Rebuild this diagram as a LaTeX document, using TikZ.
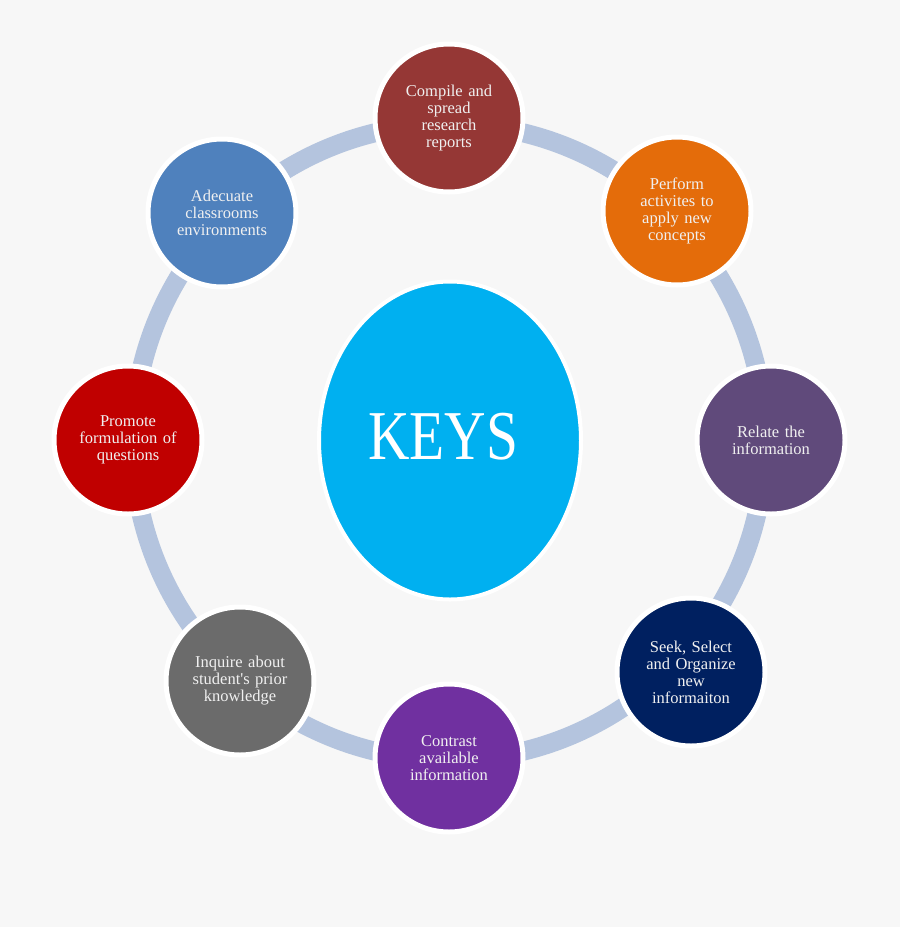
\documentclass[tikz,border=0pt]{standalone}
\usepackage{fontspec}
\setmainfont{Liberation Serif}
\definecolor{bgc}{HTML}{F7F7F7}
\definecolor{ringc}{HTML}{B4C4DE}
\definecolor{keysc}{HTML}{00B0F0}
\definecolor{txtc}{HTML}{F0F0F0}
\definecolor{cA}{HTML}{953735}
\definecolor{cB}{HTML}{E46C0A}
\definecolor{cC}{HTML}{604A7B}
\definecolor{cD}{HTML}{002060}
\definecolor{cE}{HTML}{7030A0}
\definecolor{cF}{HTML}{6B6B6B}
\definecolor{cG}{HTML}{C00000}
\definecolor{cH}{HTML}{4F81BD}
\tikzset{
  bub/.style={circle, draw=white, line width=5pt, minimum size=148pt, inner sep=0pt,
    text=txtc, align=center, text width=120pt,
    font=\fontsize{16.5}{17}\selectfont},
  keysbox/.style={ellipse, draw=white, line width=4pt, fill=keysc,
    minimum width=262pt, minimum height=318pt, inner sep=0pt, text=white},
  ringline/.style={draw=ringc, line width=19pt}
}
\usetikzlibrary{shapes.geometric}
\begin{document}
\begin{tikzpicture}[x=1pt,y=-1pt]
\fill[bgc] (0,0) rectangle (900,927);
\useasboundingbox (0,0) rectangle (900,927);
\coordinate (ctr) at (449,442);
\draw[ringline] (ctr) ellipse [x radius=316pt, y radius=318pt];
\node[keysbox] (keys) at (450,440.5) {};
\node[text=white, inner sep=0pt, font=\fontsize{70}{70}\selectfont] (keyst) at (443,437) {\scalebox{0.82}[1]{KEYS}};
\node[bub, fill=cA] (nA) at (449,118) {Compile and\\spread\\research\\reports};
\node[bub, fill=cB] (nB) at (677,211) {Perform\\activites to\\apply new\\concepts};
\node[bub, fill=cC] (nC) at (771,440) {Relate the\\information};
\node[bub, fill=cD] (nD) at (691,672) {Seek, Select\\and Organize\\new\\informaiton};
\node[bub, fill=cE] (nE) at (449,758) {Contrast\\available\\information};
\node[bub, fill=cF] (nF) at (240,681) {Inquire about\\student\textquotesingle s prior\\knowledge};
\node[bub, fill=cG] (nG) at (128,440) {Promote\\formulation of\\questions};
\node[bub, fill=cH] (nH) at (222,213) {Adecuate\\classrooms\\environments};
\end{tikzpicture}
\end{document}
